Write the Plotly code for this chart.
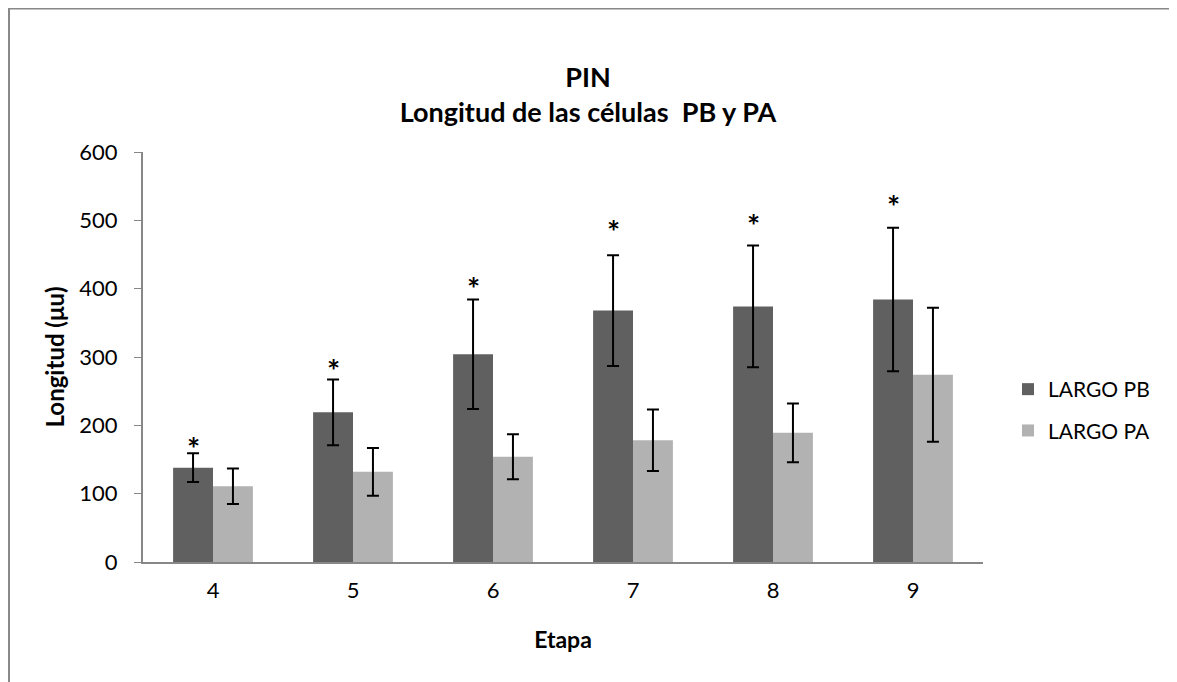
import plotly.graph_objects as go

etapas = ["4", "5", "6", "7", "8", "9"]
largo_pb = [138, 219, 304, 368, 374, 384]
err_pb = [21, 48, 80, 81, 89, 105]
largo_pa = [111, 132, 154, 178, 189, 274]
err_pa = [26, 35, 33, 45, 43, 98]
star_y = [174, 289, 408, 492, 501, 528]   # significance marks above LARGO PB
y_ticks = [0, 100, 200, 300, 400, 500, 600]

FONT = "Lato"

# page has an 8px body margin; plot area in page coords: x 143..983, y 152..562
OFF = 8
L, R, T, B = 143 - OFF, 983 - OFF, 152 - OFF, 562 - OFF
W, H = 1177, 682

fig = go.Figure()
fig.add_trace(go.Bar(
    x=etapas, y=largo_pb, name="LARGO PB", legendgroup="pb",
    marker=dict(color="#606060", line=dict(width=0)),
    error_y=dict(type="data", array=err_pb, color="black", thickness=2, width=6),
))
fig.add_trace(go.Bar(
    x=etapas, y=largo_pa, name="LARGO PA", legendgroup="pa",
    marker=dict(color="#b2b2b2", line=dict(width=0)),
    error_y=dict(type="data", array=err_pa, color="black", thickness=2, width=6),
))

for i, sy in enumerate(star_y):
    fig.add_annotation(x=i, y=sy, xref="x", yref="y", text="<b>*</b>", showarrow=False,
                       xshift=-20, yanchor="middle", yshift=-5,
                       font=dict(family=FONT, size=31, color="black"))

fig.update_layout(
    width=W, height=H,
    paper_bgcolor="white", plot_bgcolor="white",
    margin=dict(l=L, r=W - R, t=T, b=H - B, autoexpand=False),
    barmode="group", bargap=0.43, bargroupgap=0,
    font=dict(family=FONT, color="black"),
    title=dict(text="<b>PIN</b><br><b>Longitud de las células  PB y PA</b>",
               x=(588 - OFF) / W, xref="container", xanchor="center",
               y=1 - (87 - OFF) / H, yref="container", yanchor="middle",
               font=dict(family=FONT, size=27, color="black")),
    legend=dict(x=(1008 - 143) / 840, y=(562 - 410) / 410, xanchor="left", yanchor="middle",
                traceorder="grouped", tracegroupgap=11,
                font=dict(family=FONT, size=21, color="black"),
                bgcolor="rgba(0,0,0,0)"),
    showlegend=True,
)
fig.update_xaxes(
    type="category",
    showline=True, linecolor="#878787", linewidth=2, ticks="",
    tickfont=dict(family=FONT, size=22, color="black"), ticklabelstandoff=8,
    title=dict(text="<b>Etapa</b>", font=dict(family=FONT, size=23, color="black"), standoff=29),
)
fig.update_yaxes(
    range=[0, 600], tickvals=y_ticks, showgrid=False, zeroline=False,
    showline=True, linecolor="#878787", linewidth=2,
    ticks="outside", ticklen=7, tickcolor="#878787", tickwidth=1,
    tickfont=dict(family=FONT, size=22, color="black"), ticklabelstandoff=12,
    title=dict(text="<b>Longitud (μu)</b>", font=dict(family=FONT, size=24, color="black"), standoff=8),
)
# outer chart border (extends beyond page on the right/bottom)
fig.add_shape(type="rect", xref="paper", yref="paper",
              x0=(1 - L) / (R - L), x1=1.5, y0=-0.6, y1=1 + (T - 0.5) / (B - T),
              line=dict(color="#888888", width=2), fillcolor="rgba(0,0,0,0)", layer="below")

fig.write_html("out.html")
